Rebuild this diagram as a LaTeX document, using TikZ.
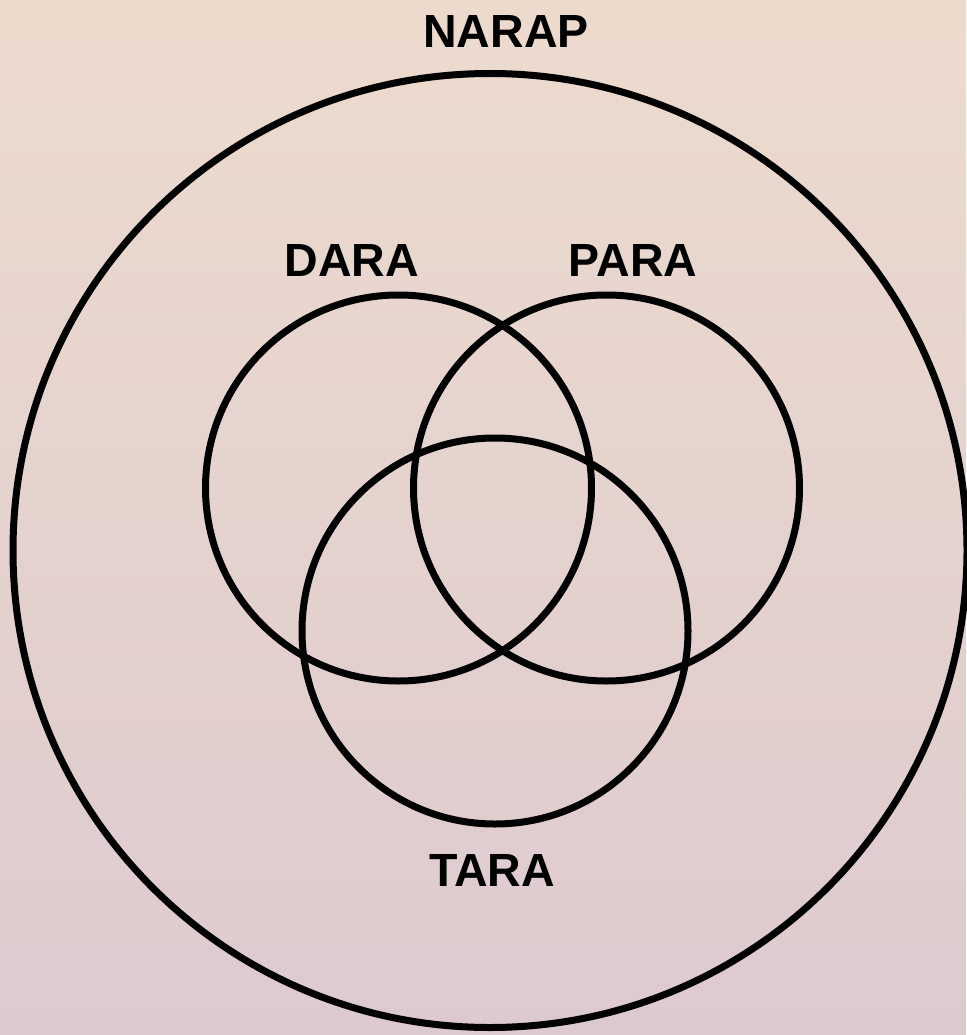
\documentclass[tikz,border=0pt]{standalone}
\usepackage{fontspec}
\setmainfont{Liberation Sans}
\definecolor{bgtop}{RGB}{236,219,205}
\definecolor{bgbot}{RGB}{221,202,207}
\begin{document}
\begin{tikzpicture}[x=1pt,y=-1pt,
  ring/.style={draw=black,line width=7pt},
  lbl/.style={font=\fontsize{46.5}{50}\selectfont\bfseries,inner sep=0pt,anchor=center}]
\shade[top color=bgtop,bottom color=bgbot] (0,0) rectangle (966,1035);
\useasboundingbox (0,0) rectangle (966,1035);
\draw[ring] (490,550.5) circle (477);
\draw[ring] (398.5,488) circle (193);
\draw[ring] (606.5,488) circle (193);
\draw[ring] (495,631) circle (193);
\node[lbl] (narap) at (506,32) {NARAP};
\node[lbl] (dara) at (352,261) {DARA};
\node[lbl] (para) at (633,261) {PARA};
\node[lbl] (tara) at (492,870) {TARA};
\end{tikzpicture}
\end{document}
